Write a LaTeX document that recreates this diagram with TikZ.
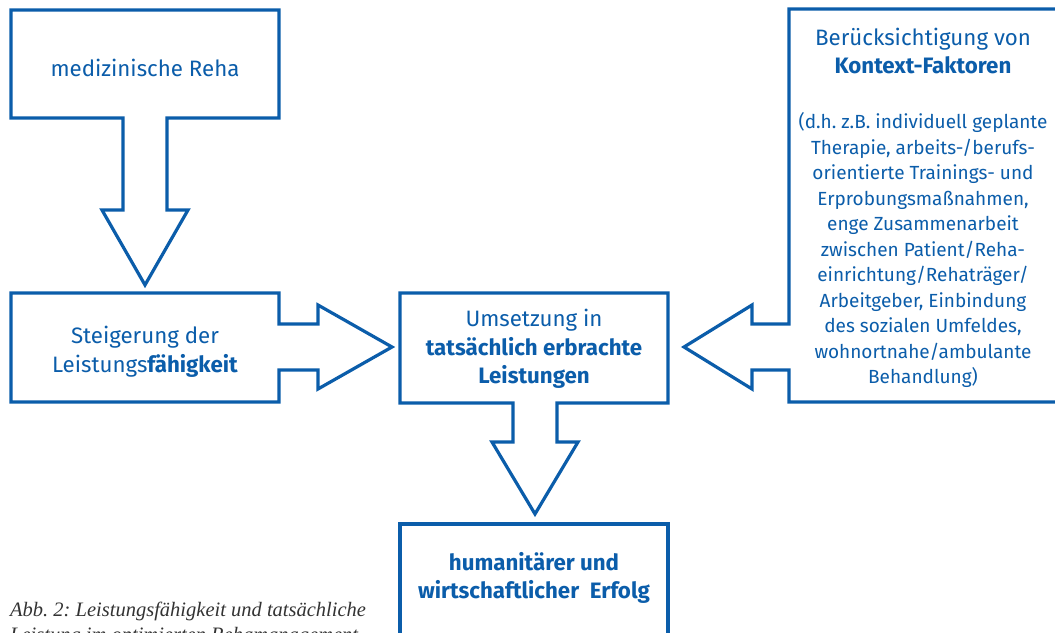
\documentclass[tikz,border=0pt]{standalone}
\usepackage{fontspec}
\setmainfont{Fira Sans}
\newfontfamily\capfont{Liberation Serif}
\usetikzlibrary{calc}
\definecolor{rehablue}{HTML}{0B5DAA}
\definecolor{captext}{HTML}{333333}
\tikzset{
  outline/.style={draw=rehablue, line width=3.2pt, line join=miter, fill=white},
  txt/.style={text=rehablue, font=\fontsize{22.3}{28.5}\selectfont, align=center, inner sep=0pt},
  txtb/.style={txt, font=\fontsize{22.3}{28.5}\selectfont\bfseries},
  txts/.style={txt, font=\fontsize{19}{25.5}\selectfont},
  captxt/.style={text=captext, font=\fontsize{20.5}{25}\selectfont\capfont\itshape, align=left, anchor=north west, inner sep=0pt},
}
\frenchspacing
\begin{document}
\begin{tikzpicture}[x=1pt,y=-1pt]
  \useasboundingbox (0,0) rectangle (1055,632);
  \clip (0,0) rectangle (1055,632);

  % box with arrow down
  \draw[outline] (11,10) -- (279,10) -- (279,118) -- (167,118) -- (167,210) -- (188,210)
    -- (145,285) -- (102,210) -- (123,210) -- (123,118) -- (11,118) -- cycle;
  % box with arrow right
  \draw[outline] (11,293) -- (279,293) -- (279,324) -- (318,324) -- (318,305) -- (392,347)
    -- (318,389) -- (318,370) -- (279,370) -- (279,402) -- (11,402) -- cycle;
  % middle box, arrow down
  \draw[outline] (400,293) -- (668,293) -- (668,403) -- (557,403) -- (557,442) -- (578,442)
    -- (535,514) -- (492,442) -- (513,442) -- (513,403) -- (400,403) -- cycle;
  \draw[outline] (400,524) rectangle (668,645);
  % right box, arrow left
  \draw[outline] (789,9) -- (1060,9) -- (1060,402) -- (789,402) -- (789,370) -- (752,370)
    -- (752,389) -- (684,347) -- (752,305) -- (752,324) -- (789,324) -- cycle;

  \node[txt] (reha) at (145,68) {medizinische Reha};
  \node[txt] (steig) at (145,352) {Steigerung der\\Leistungs\textbf{fähigkeit}};
  \node[txt] (umsetz) at (534,349) {Umsetzung in\\\textbf{tatsächlich erbrachte}\\\textbf{Leistungen}};
  \node[txtb] (erfolg) at (534,578) {humanitärer und\\wirtschaftlicher~~Erfolg};
  \node[txt] (kontext) at (923,51) {Berücksichtigung von\\\textbf{Kontext-Faktoren}};
  \node[txts] (kontextinfo) at (923,250) {(d.h. z.B. individuell geplante\\Therapie, arbeits-/berufs-\\
    orientierte Trainings- und\\Erprobungsmaßnahmen,\\enge Zusammenarbeit\\zwischen Patient/Reha-\\
    einrichtung/Rehaträger/\\Arbeitgeber, Einbindung\\des sozialen Umfeldes,\\
    wohnortnahe/ambulante\\Behandlung)};

  \node[captxt] (caption) at (10,602) {Abb. 2: Leistungsfähigkeit und tatsächliche\\Leistung im optimierten Rehamanagement};
\end{tikzpicture}
\end{document}
